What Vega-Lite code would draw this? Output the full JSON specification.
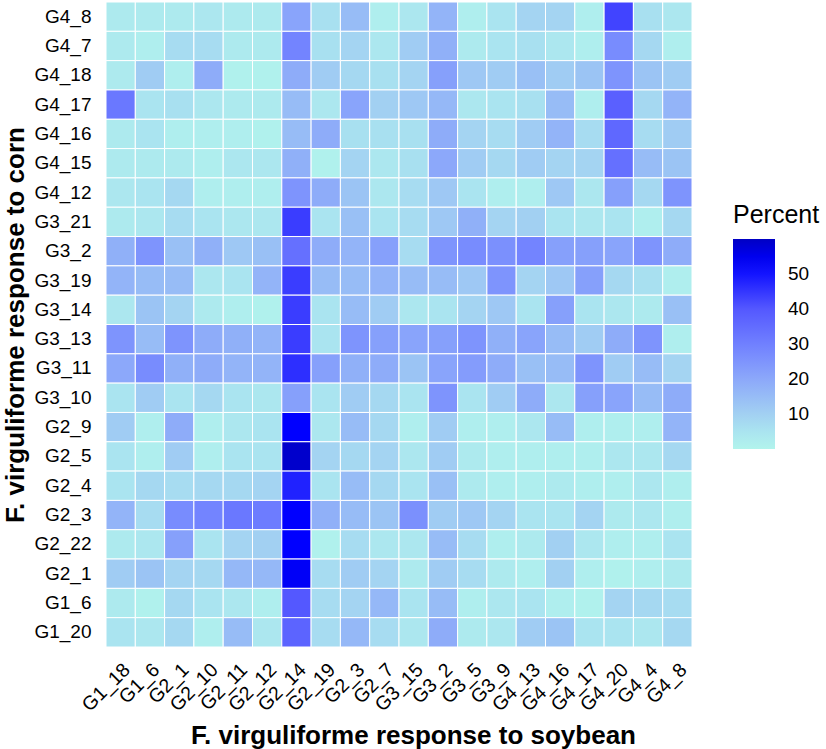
{
  "$schema": "https://vega.github.io/schema/vega-lite/v6.json",
  "width": 586,
  "height": 645,
  "padding": {"left": 2, "top": 1, "right": 0, "bottom": 0},
  "background": "white",
  "config": {
    "view": {"stroke": null},
    "font": "Liberation Sans",
    "axis": {"domain": false, "ticks": false, "grid": false, "labelColor": "black", "titleColor": "black", "labelFontSize": 19, "titleFontSize": 26, "titleFontWeight": "bold", "labelFont": "Liberation Sans", "titleFont": "Liberation Sans"}
  },
  "data": {"values": [
{"soybean":"G1_18","corn":"G4_8","percent":3},{"soybean":"G1_6","corn":"G4_8","percent":3},{"soybean":"G2_1","corn":"G4_8","percent":3},{"soybean":"G2_10","corn":"G4_8","percent":4},{"soybean":"G2_11","corn":"G4_8","percent":3},{"soybean":"G2_12","corn":"G4_8","percent":3},{"soybean":"G2_14","corn":"G4_8","percent":21},{"soybean":"G2_19","corn":"G4_8","percent":6},{"soybean":"G2_3","corn":"G4_8","percent":15},{"soybean":"G2_7","corn":"G4_8","percent":2},{"soybean":"G3_15","corn":"G4_8","percent":4},{"soybean":"G3_2","corn":"G4_8","percent":17},{"soybean":"G3_5","corn":"G4_8","percent":2},{"soybean":"G3_9","corn":"G4_8","percent":5},{"soybean":"G4_13","corn":"G4_8","percent":9},{"soybean":"G4_16","corn":"G4_8","percent":9},{"soybean":"G4_17","corn":"G4_8","percent":2},{"soybean":"G4_20","corn":"G4_8","percent":43},{"soybean":"G4_4","corn":"G4_8","percent":6},{"soybean":"G4_8","corn":"G4_8","percent":4},
{"soybean":"G1_18","corn":"G4_7","percent":3},{"soybean":"G1_6","corn":"G4_7","percent":2},{"soybean":"G2_1","corn":"G4_7","percent":7},{"soybean":"G2_10","corn":"G4_7","percent":7},{"soybean":"G2_11","corn":"G4_7","percent":3},{"soybean":"G2_12","corn":"G4_7","percent":3},{"soybean":"G2_14","corn":"G4_7","percent":29},{"soybean":"G2_19","corn":"G4_7","percent":6},{"soybean":"G2_3","corn":"G4_7","percent":9},{"soybean":"G2_7","corn":"G4_7","percent":4},{"soybean":"G3_15","corn":"G4_7","percent":11},{"soybean":"G3_2","corn":"G4_7","percent":18},{"soybean":"G3_5","corn":"G4_7","percent":3},{"soybean":"G3_9","corn":"G4_7","percent":5},{"soybean":"G4_13","corn":"G4_7","percent":6},{"soybean":"G4_16","corn":"G4_7","percent":4},{"soybean":"G4_17","corn":"G4_7","percent":2},{"soybean":"G4_20","corn":"G4_7","percent":27},{"soybean":"G4_4","corn":"G4_7","percent":8},{"soybean":"G4_8","corn":"G4_7","percent":2},
{"soybean":"G1_18","corn":"G4_18","percent":3},{"soybean":"G1_6","corn":"G4_18","percent":11},{"soybean":"G2_1","corn":"G4_18","percent":2},{"soybean":"G2_10","corn":"G4_18","percent":19},{"soybean":"G2_11","corn":"G4_18","percent":1},{"soybean":"G2_12","corn":"G4_18","percent":1},{"soybean":"G2_14","corn":"G4_18","percent":19},{"soybean":"G2_19","corn":"G4_18","percent":11},{"soybean":"G2_3","corn":"G4_18","percent":8},{"soybean":"G2_7","corn":"G4_18","percent":6},{"soybean":"G3_15","corn":"G4_18","percent":9},{"soybean":"G3_2","corn":"G4_18","percent":22},{"soybean":"G3_5","corn":"G4_18","percent":12},{"soybean":"G3_9","corn":"G4_18","percent":11},{"soybean":"G4_13","corn":"G4_18","percent":14},{"soybean":"G4_16","corn":"G4_18","percent":11},{"soybean":"G4_17","corn":"G4_18","percent":13},{"soybean":"G4_20","corn":"G4_18","percent":25},{"soybean":"G4_4","corn":"G4_18","percent":13},{"soybean":"G4_8","corn":"G4_18","percent":11},
{"soybean":"G1_18","corn":"G4_17","percent":32},{"soybean":"G1_6","corn":"G4_17","percent":5},{"soybean":"G2_1","corn":"G4_17","percent":6},{"soybean":"G2_10","corn":"G4_17","percent":4},{"soybean":"G2_11","corn":"G4_17","percent":3},{"soybean":"G2_12","corn":"G4_17","percent":3},{"soybean":"G2_14","corn":"G4_17","percent":15},{"soybean":"G2_19","corn":"G4_17","percent":4},{"soybean":"G2_3","corn":"G4_17","percent":21},{"soybean":"G2_7","corn":"G4_17","percent":10},{"soybean":"G3_15","corn":"G4_17","percent":12},{"soybean":"G3_2","corn":"G4_17","percent":16},{"soybean":"G3_5","corn":"G4_17","percent":4},{"soybean":"G3_9","corn":"G4_17","percent":5},{"soybean":"G4_13","corn":"G4_17","percent":6},{"soybean":"G4_16","corn":"G4_17","percent":15},{"soybean":"G4_17","corn":"G4_17","percent":2},{"soybean":"G4_20","corn":"G4_17","percent":38},{"soybean":"G4_4","corn":"G4_17","percent":8},{"soybean":"G4_8","corn":"G4_17","percent":17},
{"soybean":"G1_18","corn":"G4_16","percent":3},{"soybean":"G1_6","corn":"G4_16","percent":5},{"soybean":"G2_1","corn":"G4_16","percent":2},{"soybean":"G2_10","corn":"G4_16","percent":2},{"soybean":"G2_11","corn":"G4_16","percent":2},{"soybean":"G2_12","corn":"G4_16","percent":1},{"soybean":"G2_14","corn":"G4_16","percent":15},{"soybean":"G2_19","corn":"G4_16","percent":19},{"soybean":"G2_3","corn":"G4_16","percent":6},{"soybean":"G2_7","corn":"G4_16","percent":6},{"soybean":"G3_15","corn":"G4_16","percent":6},{"soybean":"G3_2","corn":"G4_16","percent":19},{"soybean":"G3_5","corn":"G4_16","percent":9},{"soybean":"G3_9","corn":"G4_16","percent":7},{"soybean":"G4_13","corn":"G4_16","percent":11},{"soybean":"G4_16","corn":"G4_16","percent":17},{"soybean":"G4_17","corn":"G4_16","percent":7},{"soybean":"G4_20","corn":"G4_16","percent":36},{"soybean":"G4_4","corn":"G4_16","percent":7},{"soybean":"G4_8","corn":"G4_16","percent":11},
{"soybean":"G1_18","corn":"G4_15","percent":3},{"soybean":"G1_6","corn":"G4_15","percent":3},{"soybean":"G2_1","corn":"G4_15","percent":3},{"soybean":"G2_10","corn":"G4_15","percent":2},{"soybean":"G2_11","corn":"G4_15","percent":4},{"soybean":"G2_12","corn":"G4_15","percent":4},{"soybean":"G2_14","corn":"G4_15","percent":18},{"soybean":"G2_19","corn":"G4_15","percent":1},{"soybean":"G2_3","corn":"G4_15","percent":9},{"soybean":"G2_7","corn":"G4_15","percent":4},{"soybean":"G3_15","corn":"G4_15","percent":6},{"soybean":"G3_2","corn":"G4_15","percent":20},{"soybean":"G3_5","corn":"G4_15","percent":11},{"soybean":"G3_9","corn":"G4_15","percent":8},{"soybean":"G4_13","corn":"G4_15","percent":11},{"soybean":"G4_16","corn":"G4_15","percent":9},{"soybean":"G4_17","corn":"G4_15","percent":9},{"soybean":"G4_20","corn":"G4_15","percent":34},{"soybean":"G4_4","corn":"G4_15","percent":15},{"soybean":"G4_8","corn":"G4_15","percent":13},
{"soybean":"G1_18","corn":"G4_12","percent":4},{"soybean":"G1_6","corn":"G4_12","percent":5},{"soybean":"G2_1","corn":"G4_12","percent":8},{"soybean":"G2_10","corn":"G4_12","percent":2},{"soybean":"G2_11","corn":"G4_12","percent":2},{"soybean":"G2_12","corn":"G4_12","percent":2},{"soybean":"G2_14","corn":"G4_12","percent":25},{"soybean":"G2_19","corn":"G4_12","percent":19},{"soybean":"G2_3","corn":"G4_12","percent":13},{"soybean":"G2_7","corn":"G4_12","percent":4},{"soybean":"G3_15","corn":"G4_12","percent":7},{"soybean":"G3_2","corn":"G4_12","percent":12},{"soybean":"G3_5","corn":"G4_12","percent":5},{"soybean":"G3_9","corn":"G4_12","percent":2},{"soybean":"G4_13","corn":"G4_12","percent":2},{"soybean":"G4_16","corn":"G4_12","percent":12},{"soybean":"G4_17","corn":"G4_12","percent":4},{"soybean":"G4_20","corn":"G4_12","percent":22},{"soybean":"G4_4","corn":"G4_12","percent":8},{"soybean":"G4_8","corn":"G4_12","percent":25},
{"soybean":"G1_18","corn":"G3_21","percent":3},{"soybean":"G1_6","corn":"G3_21","percent":4},{"soybean":"G2_1","corn":"G3_21","percent":7},{"soybean":"G2_10","corn":"G3_21","percent":5},{"soybean":"G2_11","corn":"G3_21","percent":4},{"soybean":"G2_12","corn":"G3_21","percent":4},{"soybean":"G2_14","corn":"G3_21","percent":44},{"soybean":"G2_19","corn":"G3_21","percent":5},{"soybean":"G2_3","corn":"G3_21","percent":14},{"soybean":"G2_7","corn":"G3_21","percent":5},{"soybean":"G3_15","corn":"G3_21","percent":7},{"soybean":"G3_2","corn":"G3_21","percent":12},{"soybean":"G3_5","corn":"G3_21","percent":18},{"soybean":"G3_9","corn":"G3_21","percent":9},{"soybean":"G4_13","corn":"G3_21","percent":10},{"soybean":"G4_16","corn":"G3_21","percent":5},{"soybean":"G4_17","corn":"G3_21","percent":4},{"soybean":"G4_20","corn":"G3_21","percent":5},{"soybean":"G4_4","corn":"G3_21","percent":2},{"soybean":"G4_8","corn":"G3_21","percent":8},
{"soybean":"G1_18","corn":"G3_2","percent":18},{"soybean":"G1_6","corn":"G3_2","percent":25},{"soybean":"G2_1","corn":"G3_2","percent":14},{"soybean":"G2_10","corn":"G3_2","percent":18},{"soybean":"G2_11","corn":"G3_2","percent":12},{"soybean":"G2_12","corn":"G3_2","percent":14},{"soybean":"G2_14","corn":"G3_2","percent":34},{"soybean":"G2_19","corn":"G3_2","percent":19},{"soybean":"G2_3","corn":"G3_2","percent":17},{"soybean":"G2_7","corn":"G3_2","percent":22},{"soybean":"G3_15","corn":"G3_2","percent":7},{"soybean":"G3_2","corn":"G3_2","percent":25},{"soybean":"G3_5","corn":"G3_2","percent":27},{"soybean":"G3_9","corn":"G3_2","percent":26},{"soybean":"G4_13","corn":"G3_2","percent":29},{"soybean":"G4_16","corn":"G3_2","percent":22},{"soybean":"G4_17","corn":"G3_2","percent":22},{"soybean":"G4_20","corn":"G3_2","percent":21},{"soybean":"G4_4","corn":"G3_2","percent":25},{"soybean":"G4_8","corn":"G3_2","percent":19},
{"soybean":"G1_18","corn":"G3_19","percent":17},{"soybean":"G1_6","corn":"G3_19","percent":15},{"soybean":"G2_1","corn":"G3_19","percent":15},{"soybean":"G2_10","corn":"G3_19","percent":4},{"soybean":"G2_11","corn":"G3_19","percent":5},{"soybean":"G2_12","corn":"G3_19","percent":17},{"soybean":"G2_14","corn":"G3_19","percent":44},{"soybean":"G2_19","corn":"G3_19","percent":15},{"soybean":"G2_3","corn":"G3_19","percent":15},{"soybean":"G2_7","corn":"G3_19","percent":17},{"soybean":"G3_15","corn":"G3_19","percent":15},{"soybean":"G3_2","corn":"G3_19","percent":15},{"soybean":"G3_5","corn":"G3_19","percent":12},{"soybean":"G3_9","corn":"G3_19","percent":25},{"soybean":"G4_13","corn":"G3_19","percent":9},{"soybean":"G4_16","corn":"G3_19","percent":12},{"soybean":"G4_17","corn":"G3_19","percent":22},{"soybean":"G4_20","corn":"G3_19","percent":8},{"soybean":"G4_4","corn":"G3_19","percent":6},{"soybean":"G4_8","corn":"G3_19","percent":2},
{"soybean":"G1_18","corn":"G3_14","percent":4},{"soybean":"G1_6","corn":"G3_14","percent":13},{"soybean":"G2_1","corn":"G3_14","percent":9},{"soybean":"G2_10","corn":"G3_14","percent":3},{"soybean":"G2_11","corn":"G3_14","percent":2},{"soybean":"G2_12","corn":"G3_14","percent":1},{"soybean":"G2_14","corn":"G3_14","percent":44},{"soybean":"G2_19","corn":"G3_14","percent":5},{"soybean":"G2_3","corn":"G3_14","percent":15},{"soybean":"G2_7","corn":"G3_14","percent":11},{"soybean":"G3_15","corn":"G3_14","percent":4},{"soybean":"G3_2","corn":"G3_14","percent":5},{"soybean":"G3_5","corn":"G3_14","percent":9},{"soybean":"G3_9","corn":"G3_14","percent":12},{"soybean":"G4_13","corn":"G3_14","percent":5},{"soybean":"G4_16","corn":"G3_14","percent":22},{"soybean":"G4_17","corn":"G3_14","percent":5},{"soybean":"G4_20","corn":"G3_14","percent":4},{"soybean":"G4_4","corn":"G3_14","percent":3},{"soybean":"G4_8","corn":"G3_14","percent":14},
{"soybean":"G1_18","corn":"G3_13","percent":25},{"soybean":"G1_6","corn":"G3_13","percent":15},{"soybean":"G2_1","corn":"G3_13","percent":25},{"soybean":"G2_10","corn":"G3_13","percent":19},{"soybean":"G2_11","corn":"G3_13","percent":18},{"soybean":"G2_12","corn":"G3_13","percent":17},{"soybean":"G2_14","corn":"G3_13","percent":44},{"soybean":"G2_19","corn":"G3_13","percent":5},{"soybean":"G2_3","corn":"G3_13","percent":25},{"soybean":"G2_7","corn":"G3_13","percent":22},{"soybean":"G3_15","corn":"G3_13","percent":21},{"soybean":"G3_2","corn":"G3_13","percent":22},{"soybean":"G3_5","corn":"G3_13","percent":25},{"soybean":"G3_9","corn":"G3_13","percent":18},{"soybean":"G4_13","corn":"G3_13","percent":21},{"soybean":"G4_16","corn":"G3_13","percent":15},{"soybean":"G4_17","corn":"G3_13","percent":11},{"soybean":"G4_20","corn":"G3_13","percent":19},{"soybean":"G4_4","corn":"G3_13","percent":25},{"soybean":"G4_8","corn":"G3_13","percent":2},
{"soybean":"G1_18","corn":"G3_11","percent":20},{"soybean":"G1_6","corn":"G3_11","percent":27},{"soybean":"G2_1","corn":"G3_11","percent":18},{"soybean":"G2_10","corn":"G3_11","percent":19},{"soybean":"G2_11","corn":"G3_11","percent":17},{"soybean":"G2_12","corn":"G3_11","percent":17},{"soybean":"G2_14","corn":"G3_11","percent":46},{"soybean":"G2_19","corn":"G3_11","percent":22},{"soybean":"G2_3","corn":"G3_11","percent":18},{"soybean":"G2_7","corn":"G3_11","percent":19},{"soybean":"G3_15","corn":"G3_11","percent":13},{"soybean":"G3_2","corn":"G3_11","percent":21},{"soybean":"G3_5","corn":"G3_11","percent":23},{"soybean":"G3_9","corn":"G3_11","percent":19},{"soybean":"G4_13","corn":"G3_11","percent":14},{"soybean":"G4_16","corn":"G3_11","percent":15},{"soybean":"G4_17","corn":"G3_11","percent":25},{"soybean":"G4_20","corn":"G3_11","percent":11},{"soybean":"G4_4","corn":"G3_11","percent":15},{"soybean":"G4_8","corn":"G3_11","percent":9},
{"soybean":"G1_18","corn":"G3_10","percent":5},{"soybean":"G1_6","corn":"G3_10","percent":11},{"soybean":"G2_1","corn":"G3_10","percent":5},{"soybean":"G2_10","corn":"G3_10","percent":8},{"soybean":"G2_11","corn":"G3_10","percent":5},{"soybean":"G2_12","corn":"G3_10","percent":4},{"soybean":"G2_14","corn":"G3_10","percent":22},{"soybean":"G2_19","corn":"G3_10","percent":5},{"soybean":"G2_3","corn":"G3_10","percent":11},{"soybean":"G2_7","corn":"G3_10","percent":8},{"soybean":"G3_15","corn":"G3_10","percent":5},{"soybean":"G3_2","corn":"G3_10","percent":25},{"soybean":"G3_5","corn":"G3_10","percent":5},{"soybean":"G3_9","corn":"G3_10","percent":11},{"soybean":"G4_13","corn":"G3_10","percent":19},{"soybean":"G4_16","corn":"G3_10","percent":4},{"soybean":"G4_17","corn":"G3_10","percent":22},{"soybean":"G4_20","corn":"G3_10","percent":21},{"soybean":"G4_4","corn":"G3_10","percent":15},{"soybean":"G4_8","corn":"G3_10","percent":19},
{"soybean":"G1_18","corn":"G2_9","percent":11},{"soybean":"G1_6","corn":"G2_9","percent":2},{"soybean":"G2_1","corn":"G2_9","percent":19},{"soybean":"G2_10","corn":"G2_9","percent":2},{"soybean":"G2_11","corn":"G2_9","percent":4},{"soybean":"G2_12","corn":"G2_9","percent":5},{"soybean":"G2_14","corn":"G2_9","percent":53},{"soybean":"G2_19","corn":"G2_9","percent":4},{"soybean":"G2_3","corn":"G2_9","percent":15},{"soybean":"G2_7","corn":"G2_9","percent":8},{"soybean":"G3_15","corn":"G2_9","percent":2},{"soybean":"G3_2","corn":"G2_9","percent":11},{"soybean":"G3_5","corn":"G2_9","percent":2},{"soybean":"G3_9","corn":"G2_9","percent":2},{"soybean":"G4_13","corn":"G2_9","percent":4},{"soybean":"G4_16","corn":"G2_9","percent":15},{"soybean":"G4_17","corn":"G2_9","percent":2},{"soybean":"G4_20","corn":"G2_9","percent":2},{"soybean":"G4_4","corn":"G2_9","percent":2},{"soybean":"G4_8","corn":"G2_9","percent":17},
{"soybean":"G1_18","corn":"G2_5","percent":5},{"soybean":"G1_6","corn":"G2_5","percent":2},{"soybean":"G2_1","corn":"G2_5","percent":11},{"soybean":"G2_10","corn":"G2_5","percent":2},{"soybean":"G2_11","corn":"G2_5","percent":5},{"soybean":"G2_12","corn":"G2_5","percent":5},{"soybean":"G2_14","corn":"G2_5","percent":59},{"soybean":"G2_19","corn":"G2_5","percent":9},{"soybean":"G2_3","corn":"G2_5","percent":8},{"soybean":"G2_7","corn":"G2_5","percent":9},{"soybean":"G3_15","corn":"G2_5","percent":4},{"soybean":"G3_2","corn":"G2_5","percent":11},{"soybean":"G3_5","corn":"G2_5","percent":3},{"soybean":"G3_9","corn":"G2_5","percent":2},{"soybean":"G4_13","corn":"G2_5","percent":2},{"soybean":"G4_16","corn":"G2_5","percent":2},{"soybean":"G4_17","corn":"G2_5","percent":2},{"soybean":"G4_20","corn":"G2_5","percent":4},{"soybean":"G4_4","corn":"G2_5","percent":4},{"soybean":"G4_8","corn":"G2_5","percent":8},
{"soybean":"G1_18","corn":"G2_4","percent":5},{"soybean":"G1_6","corn":"G2_4","percent":8},{"soybean":"G2_1","corn":"G2_4","percent":7},{"soybean":"G2_10","corn":"G2_4","percent":8},{"soybean":"G2_11","corn":"G2_4","percent":8},{"soybean":"G2_12","corn":"G2_4","percent":9},{"soybean":"G2_14","corn":"G2_4","percent":48},{"soybean":"G2_19","corn":"G2_4","percent":5},{"soybean":"G2_3","corn":"G2_4","percent":15},{"soybean":"G2_7","corn":"G2_4","percent":8},{"soybean":"G3_15","corn":"G2_4","percent":5},{"soybean":"G3_2","corn":"G2_4","percent":14},{"soybean":"G3_5","corn":"G2_4","percent":3},{"soybean":"G3_9","corn":"G2_4","percent":2},{"soybean":"G4_13","corn":"G2_4","percent":2},{"soybean":"G4_16","corn":"G2_4","percent":3},{"soybean":"G4_17","corn":"G2_4","percent":2},{"soybean":"G4_20","corn":"G2_4","percent":2},{"soybean":"G4_4","corn":"G2_4","percent":4},{"soybean":"G4_8","corn":"G2_4","percent":2},
{"soybean":"G1_18","corn":"G2_3","percent":17},{"soybean":"G1_6","corn":"G2_3","percent":7},{"soybean":"G2_1","corn":"G2_3","percent":27},{"soybean":"G2_10","corn":"G2_3","percent":29},{"soybean":"G2_11","corn":"G2_3","percent":32},{"soybean":"G2_12","corn":"G2_3","percent":31},{"soybean":"G2_14","corn":"G2_3","percent":53},{"soybean":"G2_19","corn":"G2_3","percent":18},{"soybean":"G2_3","corn":"G2_3","percent":15},{"soybean":"G2_7","corn":"G2_3","percent":13},{"soybean":"G3_15","corn":"G2_3","percent":26},{"soybean":"G3_2","corn":"G2_3","percent":11},{"soybean":"G3_5","corn":"G2_3","percent":12},{"soybean":"G3_9","corn":"G2_3","percent":9},{"soybean":"G4_13","corn":"G2_3","percent":5},{"soybean":"G4_16","corn":"G2_3","percent":5},{"soybean":"G4_17","corn":"G2_3","percent":9},{"soybean":"G4_20","corn":"G2_3","percent":3},{"soybean":"G4_4","corn":"G2_3","percent":4},{"soybean":"G4_8","corn":"G2_3","percent":2},
{"soybean":"G1_18","corn":"G2_22","percent":3},{"soybean":"G1_6","corn":"G2_22","percent":4},{"soybean":"G2_1","corn":"G2_22","percent":22},{"soybean":"G2_10","corn":"G2_22","percent":5},{"soybean":"G2_11","corn":"G2_22","percent":9},{"soybean":"G2_12","corn":"G2_22","percent":10},{"soybean":"G2_14","corn":"G2_22","percent":53},{"soybean":"G2_19","corn":"G2_22","percent":1},{"soybean":"G2_3","corn":"G2_22","percent":7},{"soybean":"G2_7","corn":"G2_22","percent":4},{"soybean":"G3_15","corn":"G2_22","percent":4},{"soybean":"G3_2","corn":"G2_22","percent":15},{"soybean":"G3_5","corn":"G2_22","percent":7},{"soybean":"G3_9","corn":"G2_22","percent":2},{"soybean":"G4_13","corn":"G2_22","percent":3},{"soybean":"G4_16","corn":"G2_22","percent":10},{"soybean":"G4_17","corn":"G2_22","percent":4},{"soybean":"G4_20","corn":"G2_22","percent":2},{"soybean":"G4_4","corn":"G2_22","percent":2},{"soybean":"G4_8","corn":"G2_22","percent":5},
{"soybean":"G1_18","corn":"G2_1","percent":11},{"soybean":"G1_6","corn":"G2_1","percent":13},{"soybean":"G2_1","corn":"G2_1","percent":9},{"soybean":"G2_10","corn":"G2_1","percent":8},{"soybean":"G2_11","corn":"G2_1","percent":16},{"soybean":"G2_12","corn":"G2_1","percent":16},{"soybean":"G2_14","corn":"G2_1","percent":54},{"soybean":"G2_19","corn":"G2_1","percent":7},{"soybean":"G2_3","corn":"G2_1","percent":11},{"soybean":"G2_7","corn":"G2_1","percent":9},{"soybean":"G3_15","corn":"G2_1","percent":3},{"soybean":"G3_2","corn":"G2_1","percent":11},{"soybean":"G3_5","corn":"G2_1","percent":7},{"soybean":"G3_9","corn":"G2_1","percent":3},{"soybean":"G4_13","corn":"G2_1","percent":2},{"soybean":"G4_16","corn":"G2_1","percent":10},{"soybean":"G4_17","corn":"G2_1","percent":2},{"soybean":"G4_20","corn":"G2_1","percent":1},{"soybean":"G4_4","corn":"G2_1","percent":2},{"soybean":"G4_8","corn":"G2_1","percent":3},
{"soybean":"G1_18","corn":"G1_6","percent":3},{"soybean":"G1_6","corn":"G1_6","percent":1},{"soybean":"G2_1","corn":"G1_6","percent":8},{"soybean":"G2_10","corn":"G1_6","percent":5},{"soybean":"G2_11","corn":"G1_6","percent":4},{"soybean":"G2_12","corn":"G1_6","percent":2},{"soybean":"G2_14","corn":"G1_6","percent":40},{"soybean":"G2_19","corn":"G1_6","percent":7},{"soybean":"G2_3","corn":"G1_6","percent":9},{"soybean":"G2_7","corn":"G1_6","percent":16},{"soybean":"G3_15","corn":"G1_6","percent":5},{"soybean":"G3_2","corn":"G1_6","percent":15},{"soybean":"G3_5","corn":"G1_6","percent":2},{"soybean":"G3_9","corn":"G1_6","percent":4},{"soybean":"G4_13","corn":"G1_6","percent":5},{"soybean":"G4_16","corn":"G1_6","percent":2},{"soybean":"G4_17","corn":"G1_6","percent":1},{"soybean":"G4_20","corn":"G1_6","percent":9},{"soybean":"G4_4","corn":"G1_6","percent":8},{"soybean":"G4_8","corn":"G1_6","percent":7},
{"soybean":"G1_18","corn":"G1_20","percent":5},{"soybean":"G1_6","corn":"G1_20","percent":4},{"soybean":"G2_1","corn":"G1_20","percent":8},{"soybean":"G2_10","corn":"G1_20","percent":2},{"soybean":"G2_11","corn":"G1_20","percent":15},{"soybean":"G2_12","corn":"G1_20","percent":4},{"soybean":"G2_14","corn":"G1_20","percent":37},{"soybean":"G2_19","corn":"G1_20","percent":7},{"soybean":"G2_3","corn":"G1_20","percent":16},{"soybean":"G2_7","corn":"G1_20","percent":7},{"soybean":"G3_15","corn":"G1_20","percent":4},{"soybean":"G3_2","corn":"G1_20","percent":19},{"soybean":"G3_5","corn":"G1_20","percent":3},{"soybean":"G3_9","corn":"G1_20","percent":4},{"soybean":"G4_13","corn":"G1_20","percent":11},{"soybean":"G4_16","corn":"G1_20","percent":13},{"soybean":"G4_17","corn":"G1_20","percent":5},{"soybean":"G4_20","corn":"G1_20","percent":5},{"soybean":"G4_4","corn":"G1_20","percent":4},{"soybean":"G4_8","corn":"G1_20","percent":8}
  ]},
  "mark": {"type": "rect", "stroke": "white", "strokeWidth": 1},
  "encoding": {
    "x": {
      "field": "soybean", "type": "nominal",
      "sort": ["G1_18","G1_6","G2_1","G2_10","G2_11","G2_12","G2_14","G2_19","G2_3","G2_7","G3_15","G3_2","G3_5","G3_9","G4_13","G4_16","G4_17","G4_20","G4_4","G4_8"],
      "scale": {"paddingInner": 0, "paddingOuter": 0},
      "axis": {"title": "F. virguliforme response to soybean", "labelAngle": -45, "labelAlign": "right", "labelBaseline": "top", "labelPadding": 13, "labelFontSize": 19.5, "titlePadding": 8, "titleX": 307}
    },
    "y": {
      "field": "corn", "type": "nominal",
      "sort": ["G4_8","G4_7","G4_18","G4_17","G4_16","G4_15","G4_12","G3_21","G3_2","G3_19","G3_14","G3_13","G3_11","G3_10","G2_9","G2_5","G2_4","G2_3","G2_22","G2_1","G1_6","G1_20"],
      "scale": {"paddingInner": 0, "paddingOuter": 0},
      "axis": {"title": "F. virguliforme response to corn", "labelPadding": 15, "titlePadding": 5}
    },
    "color": {
      "field": "percent", "type": "quantitative",
      "scale": {
        "domain": [0, 5, 10, 20, 30, 40, 53, 60],
        "range": ["#b2f4ec", "#aae4f0", "#a2d0f2", "#8ca8fa", "#7080ff", "#5458ff", "#0000ff", "#0000c4"],
        "interpolate": "rgb"
      },
      "legend": {
        "title": "Percent", "orient": "none", "legendX": 627, "legendY": 201,
        "direction": "vertical", "gradientLength": 210, "gradientThickness": 42,
        "values": [10, 20, 30, 40, 50], "labelFontSize": 19, "labelOffset": 13, "labelColor": "black",
        "titleFontSize": 25, "titleFontWeight": "normal", "titleColor": "black", "titlePadding": 11,
        "gradientStrokeWidth": 0
      }
    }
  }
}
